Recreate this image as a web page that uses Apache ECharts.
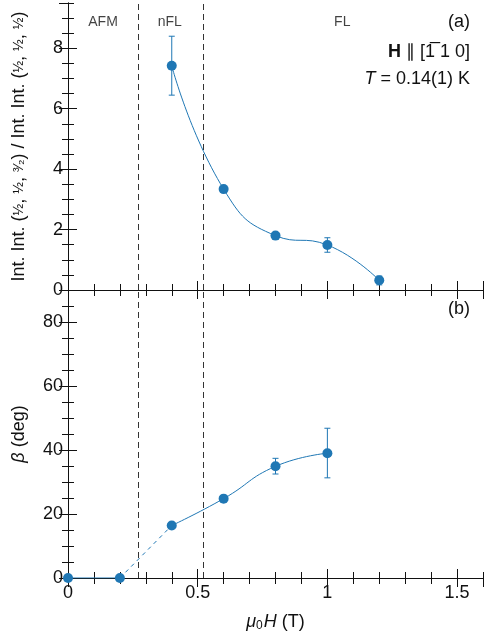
<!DOCTYPE html>
<html>
<head>
<meta charset="utf-8">
<script src="https://cdn.jsdelivr.net/npm/echarts@6/dist/echarts.min.js"></script>
<style>
  html, body { margin: 0; padding: 0; background: #fff; }
  #chart { width: 484px; height: 638px; }
</style>
</head>
<body>
<div id="chart"></div>
<script>
// panel (a): integrated intensity ratio
const fieldA = [0.4, 0.6, 0.8, 1.0, 1.2];
const ratio = [7.42, 3.34, 1.8, 1.49, 0.32];
const ratioLow = [6.45, null, null, 1.25, 0.17];
const ratioHigh = [8.4, null, null, 1.73, 0.46];

// panel (b): beta angle
const fieldB = [0, 0.2, 0.4, 0.6, 0.8, 1.0];
const beta = [0, 0, 16.4, 24.8, 34.9, 39.0];
const betaLow = [null, null, null, null, 32.5, 31.3];
const betaHigh = [null, null, null, null, 37.4, 46.8];

// phase boundaries and names
const phaseBounds = [0.27, 0.515];
const phaseNames = ["AFM", "nFL", "FL"];

const xRange = [0, 1.6];
const yRangeA = [0, 9.5];
const yRangeB = [0, 90];

const BLUE = "#1f77b4";
const INK = "#111";
const FONT = "Liberation Sans";

function pairs(xs, ys) {
  return xs.map((x, i) => [x, ys[i]]);
}
function errRows(xs, lo, hi) {
  return xs.map((x, i) => [x, lo[i], hi[i]]).filter(r => r[1] != null);
}
function errorBar(params, api) {
  const x = api.value(0);
  const p1 = api.coord([x, api.value(1)]);
  const p2 = api.coord([x, api.value(2)]);
  const w = 3;
  const style = { stroke: BLUE, lineWidth: 1 };
  return {
    type: "group",
    children: [
      { type: "line", shape: { x1: p1[0], y1: p1[1], x2: p2[0], y2: p2[1] }, style },
      { type: "line", shape: { x1: p1[0] - w, y1: p1[1], x2: p1[0] + w, y2: p1[1] }, style },
      { type: "line", shape: { x1: p2[0] - w, y1: p2[1], x2: p2[0] + w, y2: p2[1] }, style }
    ]
  };
}

// four axes per side pair: major bottom/top, then minor (positions flip into place)
function makeX(grid, showLabels) {
  const base = { type: "value", gridIndex: grid, min: xRange[0], max: xRange[1], splitLine: { show: false } };
  const major = {
    ...base, interval: 0.5,
    axisLine: { show: true, lineStyle: { color: INK, width: 1 } },
    axisTick: { inside: true, length: 9, lineStyle: { color: INK } }
  };
  const minor = {
    ...base, interval: 0.1,
    axisLine: { show: false },
    axisTick: { inside: true, length: 6, lineStyle: { color: INK } },
    axisLabel: { show: false }
  };
  const bottom = {
    ...major, position: "bottom",
    axisLabel: {
      show: showLabels, showMaxLabel: false, margin: 6,
      color: INK, fontSize: 18, fontFamily: FONT,
      formatter: v => String(v)
    }
  };
  if (showLabels) {
    bottom.name = "{i|μ}{s|0}{i|H} (T)";
    bottom.nameLocation = "middle";
    bottom.nameGap = 34;
    bottom.nameTextStyle = {
      color: INK, fontSize: 18, fontFamily: FONT,
      rich: {
        i: { fontStyle: "italic", fontSize: 18, fontFamily: FONT, color: INK },
        s: { fontSize: 12, fontFamily: FONT, color: INK, verticalAlign: "bottom", padding: [8, 1, 0, 0] }
      }
    };
  }
  return [
    bottom,
    { ...major, position: "top", axisLabel: { show: false } },
    { ...minor, position: "top" },
    { ...minor, position: "bottom" }
  ];
}
function makeY(grid, range, majorStep, minorStep, name, nameRich) {
  const base = { type: "value", gridIndex: grid, min: range[0], max: range[1], splitLine: { show: false } };
  const major = {
    ...base, interval: majorStep,
    axisLine: { show: true, lineStyle: { color: INK, width: 1 } },
    axisTick: { inside: true, length: 9, lineStyle: { color: INK } }
  };
  const minor = {
    ...base, interval: minorStep,
    axisLine: { show: false },
    axisTick: { inside: true, length: 6, lineStyle: { color: INK } },
    axisLabel: { show: false }
  };
  return [
    {
      ...major, position: "left",
      axisLabel: { showMaxLabel: false, margin: 5, color: INK, fontSize: 18, fontFamily: FONT },
      name: name, nameLocation: "middle", nameGap: 40, nameRotate: 90,
      nameTextStyle: { color: INK, fontSize: 18, fontFamily: FONT, rich: nameRich }
    },
    { ...major, position: "right", axisLabel: { show: false } },
    { ...minor, position: "right" },
    { ...minor, position: "left" }
  ];
}

const fracStyle = { fontSize: 14, fontFamily: FONT, color: INK };
const yNameA = "Int. Int. ({f|½}, {f|½}, {f|³⁄₂}) / Int. Int. ({f|½}, {f|½}, {f|½})";
const yNameB = "{i|β} (deg)";

const phaseMid = [
  (xRange[0] + phaseBounds[0]) / 2,
  (phaseBounds[0] + phaseBounds[1]) / 2,
  (phaseBounds[1] + xRange[1]) / 2
];

const boundaryLines = {
  silent: true,
  symbol: "none",
  label: { show: false },
  lineStyle: { color: "#333", type: [6, 4], width: 1 },
  data: phaseBounds.map(b => ({ xAxis: b }))
};

let myChart = echarts.init(document.getElementById("chart"));
let option = {
  animation: false,
  grid: [
    { left: 68, right: 1, top: 3, height: 287 },
    { left: 68, right: 1, top: 290, height: 288 }
  ],
  xAxis: [...makeX(0, false), ...makeX(1, true)],
  yAxis: [
    ...makeY(0, yRangeA, 2, 0.5, yNameA, { f: fracStyle }),
    ...makeY(1, yRangeB, 20, 5, yNameB, { i: { fontStyle: "italic", fontSize: 18, fontFamily: FONT, color: INK } })
  ],
  graphic: [
    { type: "text", right: 14, top: 13, style: { text: "(a)", font: "18px Liberation Sans", fill: INK } },
    {
      type: "text", right: 14, top: 43,
      style: {
        text: "{b|H} ∥ [1̅ 1 0]", font: "18px Liberation Sans", fill: INK,
        rich: { b: { fontWeight: "bold", fontSize: 18, fontFamily: FONT, fill: INK } }
      }
    },
    {
      type: "text", right: 14, top: 70,
      style: {
        text: "{i|T} = 0.14(1) K", font: "18px Liberation Sans", fill: INK,
        rich: { i: { fontStyle: "italic", fontSize: 18, fontFamily: FONT, fill: INK } }
      }
    },
    { type: "text", right: 14, top: 300, style: { text: "(b)", font: "18px Liberation Sans", fill: INK } }
  ],
  series: [
    {
      type: "line", xAxisIndex: 0, yAxisIndex: 0,
      data: pairs(fieldA, ratio), smooth: 0.5, showSymbol: false,
      lineStyle: { color: BLUE, width: 1 },
      markLine: boundaryLines
    },
    {
      type: "custom", xAxisIndex: 0, yAxisIndex: 0,
      data: errRows(fieldA, ratioLow, ratioHigh), renderItem: errorBar, z: 3
    },
    {
      type: "scatter", xAxisIndex: 0, yAxisIndex: 0,
      data: pairs(fieldA, ratio), symbolSize: 10, itemStyle: { color: BLUE, opacity: 1 }, z: 4
    },
    {
      type: "scatter", xAxisIndex: 0, yAxisIndex: 0, symbolSize: 0,
      data: phaseMid.map((m, i) => [m, 8.85, phaseNames[i]]),
      label: {
        show: true, position: "inside", color: INK, fontSize: 14, fontFamily: FONT,
        formatter: p => p.value[2]
      }
    },
    {
      type: "line", xAxisIndex: 4, yAxisIndex: 4,
      data: pairs(fieldB, beta).slice(0, 2), showSymbol: false,
      lineStyle: { color: BLUE, width: 1 },
      markLine: boundaryLines
    },
    {
      type: "line", xAxisIndex: 4, yAxisIndex: 4,
      data: pairs(fieldB, beta).slice(1, 3), showSymbol: false,
      lineStyle: { color: BLUE, width: 1, type: [4, 4] }
    },
    {
      type: "line", xAxisIndex: 4, yAxisIndex: 4,
      data: pairs(fieldB, beta).slice(2), smooth: 0.5, showSymbol: false,
      lineStyle: { color: BLUE, width: 1 }
    },
    {
      type: "custom", xAxisIndex: 4, yAxisIndex: 4,
      data: errRows(fieldB, betaLow, betaHigh), renderItem: errorBar, z: 3
    },
    {
      type: "scatter", xAxisIndex: 4, yAxisIndex: 4,
      data: pairs(fieldB, beta), symbolSize: 10, itemStyle: { color: BLUE, opacity: 1 }, z: 4
    }
  ]
};
myChart.setOption(option);
window.addEventListener("resize", function() {
  myChart.resize();
});
</script>
</body>
</html>
